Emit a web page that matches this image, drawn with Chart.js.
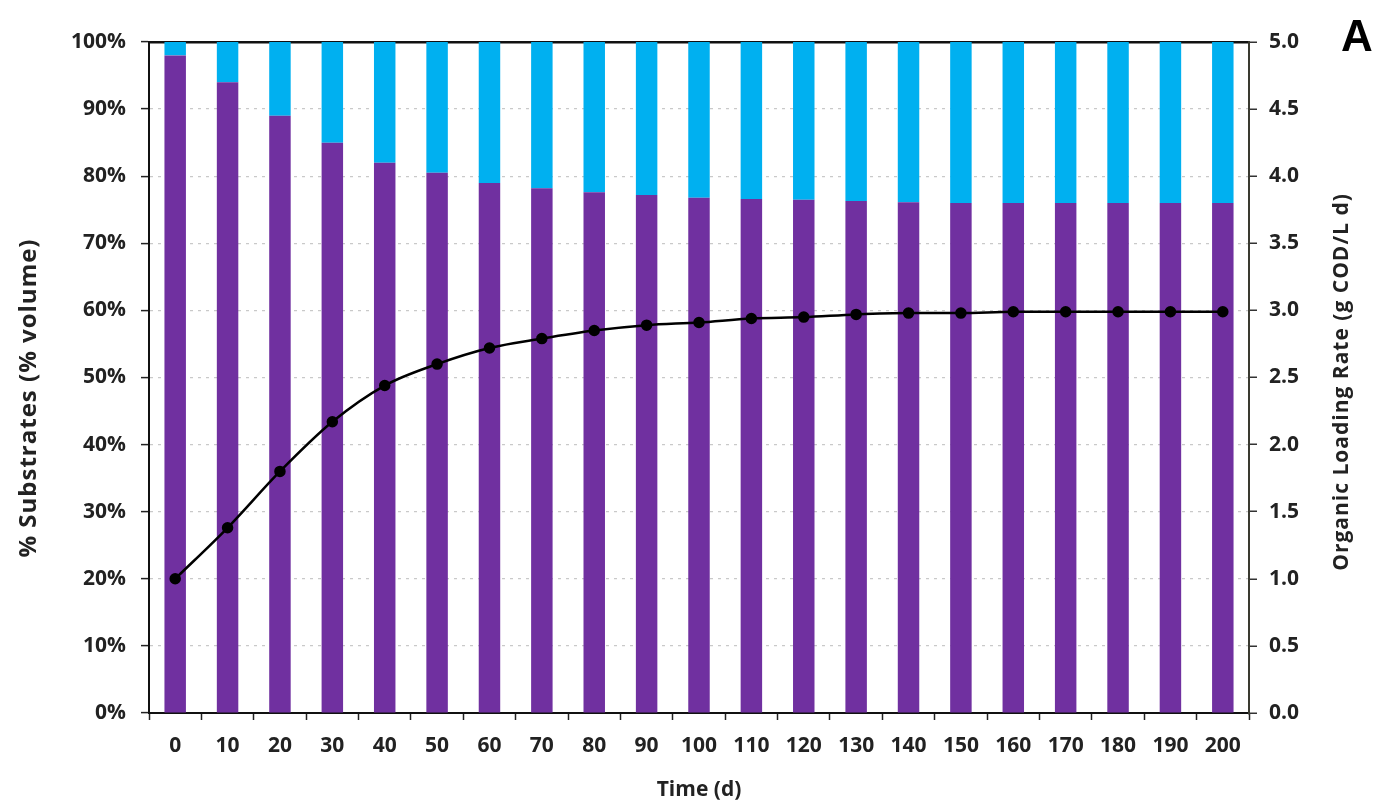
<!DOCTYPE html>
<html>
<head>
<meta charset="utf-8">
<title>Substrate mix and organic loading rate</title>
<script src="https://cdn.jsdelivr.net/npm/chart.js@4/dist/chart.umd.min.js"></script>
<style>
  html, body { margin: 0; padding: 0; background: #ffffff; }
  #wrap { width: 1379px; height: 809px; position: relative; }
</style>
</head>
<body>
<div id="wrap"><canvas id="chart" width="1379" height="809"></canvas></div>
<script>
// Time points (days)
const timeDays = ['0', '10', '20', '30', '40', '50', '60', '70', '80', '90', '100',
                  '110', '120', '130', '140', '150', '160', '170', '180', '190', '200'];

// Volume share of each substrate (%)
const substrateA = [98, 94, 89, 85, 82, 80.5, 79, 78.2, 77.6, 77.2, 76.8,
                    76.6, 76.5, 76.3, 76.1, 76, 76, 76, 76, 76, 76];
const substrateB = [2, 6, 11, 15, 18, 19.5, 21, 21.8, 22.4, 22.8, 23.2,
                    23.4, 23.5, 23.7, 23.9, 24, 24, 24, 24, 24, 24];

// Organic loading rate (g COD/L d)
const olr = [1.0, 1.38, 1.80, 2.17, 2.44, 2.60, 2.72, 2.79, 2.85, 2.89, 2.91,
             2.94, 2.95, 2.97, 2.98, 2.98, 2.99, 2.99, 2.99, 2.99, 2.99];

// Axis tick values
const pctTicks = [0, 10, 20, 30, 40, 50, 60, 70, 80, 90, 100];
const olrTicks = [0, 0.5, 1, 1.5, 2, 2.5, 3, 3.5, 4, 4.5, 5];

const FONT = '"Open Sans", "DejaVu Sans", sans-serif';

// Rotated side titles (reading bottom to top) and the panel letter
const sideText = {
  id: 'sideText',
  afterDraw(chart) {
    const { ctx, chartArea } = chart;
    ctx.save();
    ctx.fillStyle = '#222';
    ctx.textAlign = 'center';
    ctx.textBaseline = 'middle';

    ctx.save();
    ctx.translate(29, 398);
    ctx.rotate(-Math.PI / 2);
    ctx.font = 'bold 24px ' + FONT;
    ctx.letterSpacing = '1px';
    ctx.fillText('% Substrates (% volume)', 0, 0);
    ctx.restore();

    ctx.save();
    ctx.translate(1342, 382);
    ctx.rotate(-Math.PI / 2);
    ctx.font = 'bold 21px ' + FONT;
    ctx.letterSpacing = '1px';
    ctx.fillText('Organic Loading Rate (g COD/L d)', 0, 0);
    ctx.restore();

    ctx.font = 'bold 44px "Liberation Sans", Arial, sans-serif';
    ctx.fillStyle = '#000';
    ctx.fillText('A', 1357, chartArea.top - 3);
    ctx.restore();
  }
};

new Chart(document.getElementById('chart'), {
  type: 'bar',
  data: {
    labels: timeDays,
    datasets: [
      {
        type: 'line',
        label: 'OLR',
        data: olr,
        yAxisID: 'y1',
        order: 0,
        borderColor: '#000000',
        backgroundColor: '#000000',
        borderWidth: 2.5,
        pointRadius: 4.5,
        pointBackgroundColor: '#000000',
        pointBorderColor: '#000000',
        cubicInterpolationMode: 'monotone'
      },
      {
        label: 'Substrate A',
        data: substrateA,
        yAxisID: 'y',
        order: 1,
        stack: 'mix',
        backgroundColor: '#7030A0',
        categoryPercentage: 1.0,
        barPercentage: 0.41
      },
      {
        label: 'Substrate B',
        data: substrateB,
        yAxisID: 'y',
        order: 2,
        stack: 'mix',
        backgroundColor: '#00B0F0',
        categoryPercentage: 1.0,
        barPercentage: 0.41
      }
    ]
  },
  options: {
    responsive: false,
    animation: false,
    layout: { padding: { top: 42, left: 0, right: 0, bottom: 0 } },
    plugins: {
      legend: { display: false },
      tooltip: { enabled: false }
    },
    scales: {
      x: {
        stacked: true,
        offset: true,
        grid: {
          offset: true,
          drawOnChartArea: false,
          drawTicks: true,
          tickLength: 7,
          tickColor: '#222',
          tickWidth: 1.5
        },
        border: { display: true, color: '#111', width: 2 },
        ticks: {
          color: '#222',
          padding: 13,
          maxRotation: 0,
          autoSkip: false,
          font: { family: FONT, size: 21, weight: 'bold' }
        },
        title: {
          display: true,
          text: 'Time (d)',
          color: '#222',
          padding: { top: 0, bottom: 6 },
          font: { family: FONT, size: 21, weight: 'bold' }
        },
        afterFit(scale) { scale.height = 96; }
      },
      y: {
        position: 'left',
        stacked: true,
        min: 0,
        max: 100,
        afterBuildTicks(scale) { scale.ticks = pctTicks.map(v => ({ value: v })); },
        grid: {
          drawTicks: true,
          tickLength: 8,
          tickColor: '#222',
          tickWidth: 1.5,
          lineWidth: 1.2,
          color: c => (c.tick && (c.tick.value === 0 || c.tick.value === 100)) ? 'rgba(0,0,0,0)' : '#c9c9c9'
        },
        border: { display: true, color: '#111', width: 2, dash: [3, 5] },
        ticks: {
          color: '#222',
          padding: 15,
          font: { family: FONT, size: 21, weight: 'bold' },
          callback: v => v + '%'
        },
        afterFit(scale) { scale.width = 149; }
      },
      y1: {
        position: 'right',
        min: 0,
        max: 5,
        afterBuildTicks(scale) { scale.ticks = olrTicks.map(v => ({ value: v })); },
        grid: {
          drawTicks: true,
          tickLength: 8,
          tickColor: '#333',
          tickWidth: 1.5,
          lineWidth: 2.5,
          color: c => (c.tick && c.tick.value === 5) ? '#111' : 'rgba(0,0,0,0)'
        },
        border: { display: true, color: '#3a3a30', width: 2 },
        ticks: {
          color: '#222',
          padding: 12,
          font: { family: FONT, size: 21, weight: 'bold' },
          callback: v => Number(v).toFixed(1)
        },
        afterFit(scale) { scale.width = 130; }
      }
    }
  },
  plugins: [sideText]
});
</script>
</body>
</html>
